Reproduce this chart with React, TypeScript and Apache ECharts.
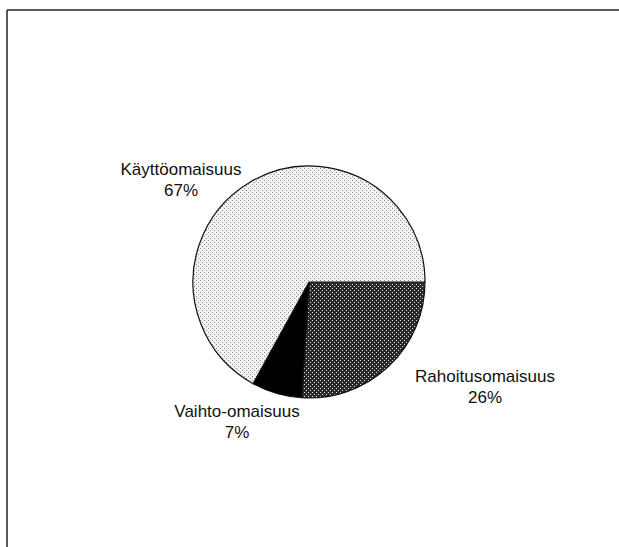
import React, { useEffect, useRef } from "react";
import * as echarts from "echarts";

const categories = ["Rahoitusomaisuus", "Vaihto-omaisuus", "Käyttöomaisuus"];
const shares = [26, 7, 67];

const labelPositions: [number, number][] = [
  [485, 387],
  [237, 422],
  [181, 180],
];

function makePattern(bg: string, dot: string): HTMLCanvasElement {
  const c = document.createElement("canvas");
  c.width = 4;
  c.height = 4;
  const ctx = c.getContext("2d")!;
  ctx.fillStyle = bg;
  ctx.fillRect(0, 0, 4, 4);
  ctx.fillStyle = dot;
  ctx.fillRect(0, 0, 1, 1);
  ctx.fillRect(2, 2, 1, 1);
  return c;
}

export default function App() {
  const ref = useRef<HTMLDivElement>(null);
  useEffect(() => {
    if (!ref.current) return;
    const chart = echarts.init(ref.current, null, { renderer: "svg" });
    const light = makePattern("#f2f2f2", "#8a8a8a");
    const dark = makePattern("#2a2a2a", "#e0e0e0");
    const fills: any[] = [
      { image: dark, repeat: "repeat" },
      "#000000",
      { image: light, repeat: "repeat" },
    ];
    chart.setOption({
      animation: false,
      backgroundColor: "#ffffff",
      graphic: [
        {
          type: "line",
          shape: { x1: 7, y1: 10, x2: 619, y2: 10 },
          style: { stroke: "#222", lineWidth: 1.5 },
        },
        {
          type: "line",
          shape: { x1: 7, y1: 10, x2: 7, y2: 547 },
          style: { stroke: "#222", lineWidth: 1.5 },
        },
      ],
      series: [
        {
          type: "pie",
          center: [309, 282],
          radius: 116,
          startAngle: 0,
          clockwise: true,
          silent: true,
          data: categories.map((name, i) => ({
            name,
            value: shares[i],
            itemStyle: { color: fills[i] },
          })),
          itemStyle: { borderColor: "#111", borderWidth: 1.2 },
          label: {
            show: true,
            formatter: "{b}\n{d}%",
            fontFamily: "Liberation Sans, Arial, sans-serif",
            fontSize: 17,
            lineHeight: 21,
            color: "#111",
            align: "center",
          },
          labelLine: { show: false },
          labelLayout: (params: any) => {
            const p = labelPositions[params.dataIndex];
            return { x: p[0], y: p[1], align: "center", verticalAlign: "middle" };
          },
        },
      ],
    });
    return () => chart.dispose();
  }, []);
  return (
    <div
      ref={ref}
      style={{ position: "fixed", left: 0, top: 0, width: 619, height: 547 }}
    />
  );
}
